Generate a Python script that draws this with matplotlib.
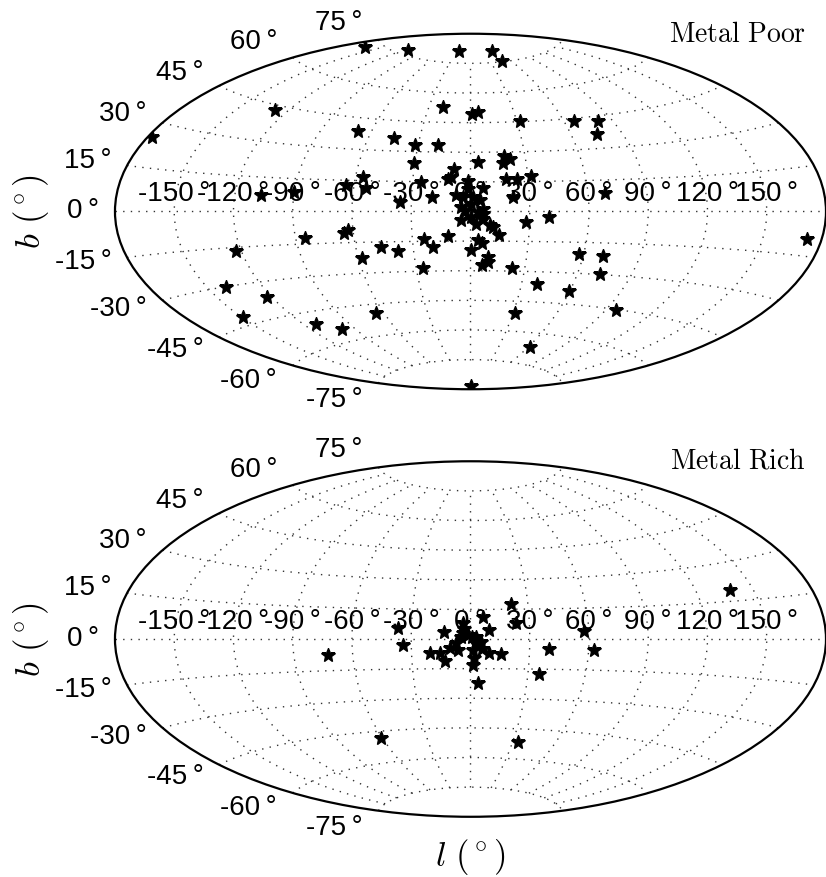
import numpy as np
import matplotlib
matplotlib.use("Agg")
import matplotlib.pyplot as plt
from matplotlib.ticker import FuncFormatter

plt.rcParams['font.family'] = ['Liberation Sans', 'DejaVu Sans']
plt.rcParams['mathtext.fontset'] = 'cm'

# galactic longitude / latitude (deg) of the metal poor stars
poor_l = [-163, -115, -27, 48, 47, -128, -178, -68, -45, -32, -18.7, -30.4,
          -56, -53.5, -64, -106.5, -90, -36, -25.7, -19.8, -85, -65, -62.5,
          -123, -58, -46.7, -38.3, -140, -123, -149, -112, -100, -65.5, -20,
          0.8, 5.5, 32, 66, 81, 75, 18.2, 21.8, 17.5, 4.3, -8.8, -10, -11.5,
          18.7, 24, 31.8, 21.5, 68.8, -1.4, -1.4, -3.9, 1.2, 6.3, 4.6, -4.7,
          -3, 3.7, 6.2, 0.4, -7.3, -4.8, 0.25, 2.9, 6.3, 6.2, 10.0, 11.4,
          14.5, 28.4, 40, 3.8, 6.2, 0.2, 9.5, 6.4, 9.6, -11.8, -24.1, -19.7,
          -26.5, 23.2, 57.4, 70.5, 72.3, 39.2, 59.5, 31.5, 96, 62, 172.5, 5]
poor_b = [72, 77, 81, 80.5, 75.5, 43, 25, 38.5, 36.5, 33.2, 33.3, 24.3,
          16.7, 11.35, 12.5, 7, 9.1, 4.6, 14.6, 7.2, -12.1, -10.3, -8.7,
          -16.6, -22.5, -17.55, -19.7, -30.1, -36.5, -41.8, -50.5, -54.5,
          -49.3, 52.8, 49.4, 50.6, 45.3, 43.6, 42.6, 36.7, 28, 26.4, 24.7,
          24.9, 21.5, 17.3, 16.6, 16.4, 16.3, 17.9, 7.2, 8.7, 15.6, 11.5, 7.2,
          7.2, 12.0, 5.6, 2.2, 0.5, -0.4, 1.4, 3.9, 8.1, -4.5, -3.0, -6.2,
          -3.7, -1.2, -6.8, -8.0, -12.1, -5.4, -2.9, -14.3, -16.0, -19.4,
          -23.0, -27.2, -25.6, -12.6, -13.6, -18.1, -28.3, -28.6, -20.6, -21,
          -29.6, -36, -38.6, -51, -45.2, -67, -9.2, -88.5]

# galactic longitude / latitude (deg) of the metal rich stars
rich_l = [138, 21, 23.2, 6.2, 9.2, -13.3, -4, -3.5, 57.6, 62.8, 40, 15.6,
          -37, -34.4, -72.8, -61, 33.5, 36, 3.8, 1.2, 2.0, -4.7, -1.4, 2.9,
          5.4, -10.3, -6.4, -20.8, -15.7, -13.2, -7.4, 1.2, 3.7, 5.7, 9.5,
          2.7, 1, -4]
rich_b = [19.5, 17.8, 7.9, 11.3, 4.6, 3.7, 7.9, 5.0, 3.8, -5.4, -4.8, -7.4,
          5.4, -3.0, -7.6, -48.2, -51.5, -17.2, -22.2, -13.2, -9.8, 1.2, 2.0,
          1.2, -1.4, -4.3, -5.6, -7.2, -7.2, -11.0, -2.2, -5.6, -3.0, -5.2,
          -7.2, -2.2, 1.2, 2.9]


def lon_fmt(x, pos):
    return "%d\u2009\u00b0" % round(np.degrees(x))


def lat_fmt(y, pos):
    return "%d\u2009\u00b0 " % round(np.degrees(y))


def sky_panel(fig, rect, l, b, name, title_y):
    ax = fig.add_axes(rect, projection='aitoff')
    ax.plot(np.radians(l), np.radians(b), 'k*', ms=10.5)
    ax.grid(True, color='0.2', linestyle=(0, (1, 4.5)), linewidth=1.0)
    ax.xaxis.set_major_formatter(FuncFormatter(lon_fmt))
    ax.yaxis.set_major_formatter(FuncFormatter(lat_fmt))
    ax.tick_params(labelsize=20)
    ax.spines['geo'].set_linewidth(1.6)
    fig.text(806 / 826, title_y, r'$\mathrm{%s}$' % name.replace(' ', r'\ '),
             ha='right', va='baseline', fontsize=20)
    return ax


fig = plt.figure(figsize=(8.26, 8.77), dpi=100)

ax1 = sky_panel(fig, [0.1392, 0.5553, 0.8608, 0.4071], poor_l, poor_b,
                'Metal Poor', 1 - 42 / 877)
ax2 = sky_panel(fig, [0.1392, 0.0684, 0.8608, 0.4059], rich_l, rich_b,
                'Metal Rich', 1 - 469 / 877)

fig.text(31 / 826, 1 - 211 / 877, r'$b\ (^\circ)$', rotation=90,
         ha='center', va='center', fontsize=25)
fig.text(31 / 826, 1 - 639 / 877, r'$b\ (^\circ)$', rotation=90,
         ha='center', va='center', fontsize=25)
fig.text(470 / 826, 1 - 857 / 877, r'$l\ (^\circ)$',
         ha='center', va='center', fontsize=25)

fig.savefig('out.png', dpi=100)
